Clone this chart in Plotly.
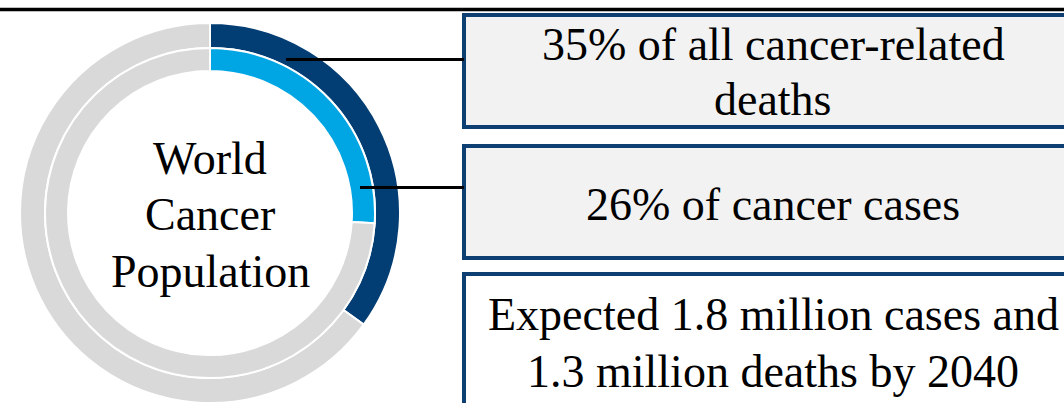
import plotly.graph_objects as go

# ---- data ----
ring_labels_outer = ["Cancer-related deaths", "Other"]
ring_values_outer = [35, 65]
ring_labels_inner = ["Cancer cases", "Other"]
ring_values_inner = [26, 74]
center_lines = ["World", "Cancer", "Population"]
box1_lines = ["35% of all cancer-related", "deaths"]
box2_lines = ["26% of cancer cases"]
box3_lines = ["Expected 1.8 million cases and", "1.3 million deaths by 2040"]

# ---- styling ----
W, H = 1064, 403
DARK = "#023E74"
LIGHT = "#00A5E3"
GRAY = "#D9D9D9"
BOX_FILL = ["#F2F2F2", "#F2F2F2", "#FFFFFF"]
BORDER = "#0D3F73"
FONT = "Liberation Serif"
FS = 46

cx, cy = 210, 213          # donut centre in pixels (from top-left)
r_out, hole_out = 190, 165
r_in, hole_in = 165, 142


def px(x):
    return x / W


def py(y):
    return 1 - y / H


def dom(r):
    x = [(cx - r) / W, (cx + r) / W]
    y = [max(0, (H - (cy + r)) / H), min(1, (H - (cy - r)) / H)]
    return dict(x=x, y=y)


fig = go.Figure()
fig.add_trace(go.Pie(
    labels=ring_labels_outer, values=ring_values_outer,
    hole=hole_out / r_out, sort=False, direction="clockwise", rotation=0,
    marker=dict(colors=[DARK, GRAY], line=dict(color="white", width=2)),
    textinfo="none", hoverinfo="skip", showlegend=False,
    domain=dom(r_out),
))
fig.add_trace(go.Pie(
    labels=ring_labels_inner, values=ring_values_inner,
    hole=hole_in / r_in, sort=False, direction="clockwise", rotation=0,
    marker=dict(colors=[LIGHT, GRAY], line=dict(color="white", width=2)),
    textinfo="none", hoverinfo="skip", showlegend=False,
    domain=dom(r_in),
))

shapes = []
# top rule
shapes.append(dict(type="line", xref="paper", yref="paper",
                   x0=0, x1=1, y0=py(9.5), y1=py(9.5),
                   line=dict(color="black", width=3.5)))
# boxes
box_y = [(15, 127), (146, 258), (274, 430)]
bx0, bx1 = 464, 1082
for (y0, y1), fill in zip(box_y, BOX_FILL):
    shapes.append(dict(type="rect", xref="paper", yref="paper",
                       x0=px(bx0), x1=px(bx1), y0=py(y0), y1=py(y1),
                       fillcolor=fill, line=dict(color=BORDER, width=4),
                       layer="above"))
# connectors
for x0, y in [(286, 59.5), (360, 187.5)]:
    shapes.append(dict(type="line", xref="paper", yref="paper",
                       x0=px(x0), x1=px(bx0), y0=py(y), y1=py(y),
                       line=dict(color="black", width=3)))
fig.update_layout(shapes=shapes)

# text lines placed by baseline (pixel y of baseline); middle anchor ~ baseline - 0.3*FS
ann = []


def add_lines(lines, xc, baselines):
    for t, b in zip(lines, baselines):
        ann.append(dict(xref="paper", yref="paper", x=px(xc), y=py(b - 0.3 * FS),
                        text=t, showarrow=False,
                        font=dict(family=FONT, size=FS, color="black"),
                        xanchor="center", yanchor="middle", align="center"))


bxc = (bx0 + bx1) / 2
add_lines(center_lines, cx, [172, 228, 285])
add_lines(box1_lines, bxc, [58, 113])
add_lines(box2_lines, bxc, [218])
add_lines(box3_lines, bxc, [328, 385])
fig.update_layout(annotations=ann)

fig.update_layout(
    width=W, height=H, margin=dict(l=0, r=0, t=0, b=0),
    paper_bgcolor="white", plot_bgcolor="white",
)
fig.write_html("out.html", config={"displayModeBar": False})
